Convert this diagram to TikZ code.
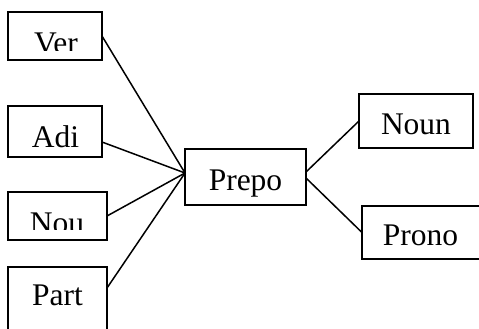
\documentclass[tikz,border=0pt]{standalone}
\usepackage{fontspec}
\setmainfont{Liberation Serif}
\tikzset{
  box/.style={draw, line width=1.8pt, inner sep=0pt, outer sep=0pt},
  txt/.style={anchor=base, inner sep=0pt, outer sep=0pt, font=\fontsize{31.5}{32}\selectfont},
  link/.style={line width=1.5pt}
}
\begin{document}
\begin{tikzpicture}[x=1pt, y=-1pt]
\clip (0,0) rectangle (479,329);
\fill[white] (0,0) rectangle (479,329);
% boxes
\node[box, minimum width=94pt, minimum height=48pt] (ver) at (55,36) {};
\node[box, minimum width=94pt, minimum height=51pt] (adi) at (55,131.5) {};
\node[box, minimum width=99pt, minimum height=48pt] (nou) at (57.5,216) {};
\node[box, minimum width=99pt, minimum height=78pt] (part) at (57.5,306) {};
\node[box, minimum width=121pt, minimum height=56pt] (prepo) at (245.5,177) {};
\node[box, minimum width=114pt, minimum height=54pt] (noun) at (416,121) {};
\node[box, minimum width=128pt, minimum height=53pt] (prono) at (426,232.5) {};
% texts (some clipped at the bottom as in the original)
\begin{scope}
  \clip (8,12) rectangle (102,50.5);
  \node[txt] (tver) at (56,53) {Ver};
\end{scope}
\begin{scope}
  \clip (8,106) rectangle (102,147.5);
  \node[txt] (tadi) at (55.5,147.5) {Adi};
\end{scope}
\begin{scope}
  \clip (8,192) rectangle (107,229.5);
  \node[txt] (tnou) at (57,233) {Nou};
\end{scope}
\node[txt] (tpart) at (57.5,305) {Part};
\node[txt] (tprepo) at (245.5,190) {Prepo};
\node[txt] (tnoun) at (416,134) {Noun};
\node[txt] (tprono) at (420.5,245) {Prono};
% connectors
\draw[link] (ver.east) -- ([yshift=4pt]prepo.west);
\draw[link] ([yshift=-10.5pt]adi.east) -- ([yshift=4pt]prepo.west);
\draw[link] (nou.east) -- ([yshift=4pt]prepo.west);
\draw[link] ([yshift=18pt]part.east) -- ([yshift=4pt]prepo.west);
\draw[link] ([yshift=5pt]prepo.east) -- (noun.west);
\draw[link] ([yshift=-1pt]prepo.east) -- (prono.west);
\end{tikzpicture}
\end{document}
